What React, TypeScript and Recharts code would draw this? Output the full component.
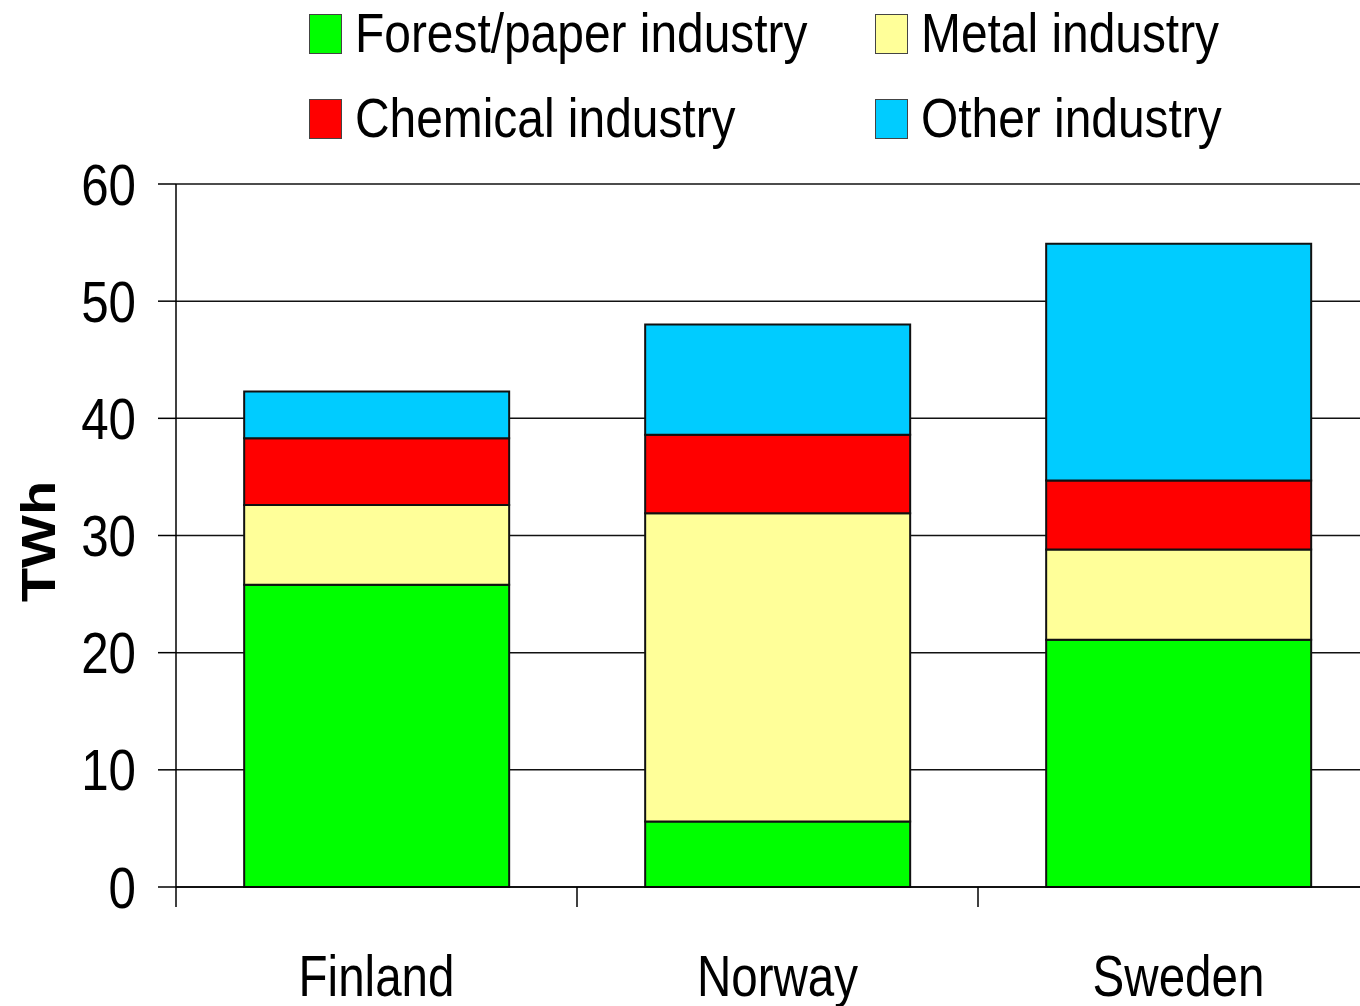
import { BarChart, Bar, XAxis, YAxis, CartesianGrid, Legend } from "recharts";

const countries = ["Finland", "Norway", "Sweden"];
const forestPaper = [25.8, 5.6, 21.1];
const metal = [6.8, 26.3, 7.7];
const chemical = [5.7, 6.7, 5.9];
const other = [4.0, 9.4, 20.2];
const yTicks = [0, 10, 20, 30, 40, 50, 60];
const legendOrder = ["Forest/paper industry", "Metal industry", "Chemical industry", "Other industry"];

const data = countries.map((country, i) => ({
  country,
  forest: forestPaper[i],
  metal: metal[i],
  chemical: chemical[i],
  other: other[i],
}));

const FONT = "'Liberation Sans', Arial, sans-serif";
// the source picture is squeezed horizontally
const SQUEEZE = 0.85;

function YTick({ x, y, payload }: any) {
  return (
    <text
      transform={`translate(${x},${y}) scale(${SQUEEZE},1)`}
      textAnchor="end"
      dy="0.355em"
      fontSize={58}
      fontFamily={FONT}
      fill="#000"
    >
      {payload.value}
    </text>
  );
}

// category label plus a tick mark on the left edge of each band
function XTick({ x, y, payload }: any) {
  const off = payload.offset ?? 200;
  return (
    <g>
      <line x1={x - off} y1={y - 20} x2={x - off} y2={y} stroke="#000" strokeWidth={1.5} />
      <text
        transform={`translate(${x},${y + 89}) scale(0.82,1)`}
        textAnchor="middle"
        fontSize={58}
        fontFamily={FONT}
        fill="#000"
      >
        {payload.value}
      </text>
    </g>
  );
}

function YTitle({ viewBox }: any) {
  const cy = viewBox.y + viewBox.height / 2 + 6;
  return (
    <text
      transform={`translate(55,${cy}) rotate(-90) scale(1,${SQUEEZE})`}
      textAnchor="middle"
      fontSize={56}
      fontWeight="bold"
      fontFamily={FONT}
      fill="#000"
    >
      TWh
    </text>
  );
}

function LegendBox({ payload }: any) {
  const items = [...(payload || [])].sort(
    (a: any, b: any) => legendOrder.indexOf(a.value) - legendOrder.indexOf(b.value)
  );
  return (
    <div
      style={{
        display: "grid",
        gridTemplateColumns: "566px 566px",
        paddingLeft: 309,
        paddingTop: 5,
        fontFamily: FONT,
      }}
    >
      {items.map((item: any) => (
        <div key={item.value} style={{ display: "flex", alignItems: "flex-start", height: 85 }}>
          <div
            style={{
              width: 33,
              height: 40,
              marginTop: 9,
              background: item.color,
              border: "1.5px solid #444",
              boxSizing: "border-box",
              flexShrink: 0,
            }}
          />
          <span
            style={{
              marginLeft: 13,
              fontSize: 56,
              lineHeight: "56px",
              color: "#000",
              whiteSpace: "nowrap",
              display: "inline-block",
              transform: "scaleX(0.855)",
              transformOrigin: "left center",
            }}
          >
            {item.value}
          </span>
        </div>
      ))}
    </div>
  );
}

export default function App() {
  return (
    <div
      style={{
        position: "absolute",
        left: 0,
        top: 0,
        width: 1360,
        height: 1006,
        overflow: "hidden",
        background: "#fff",
      }}
    >
      <BarChart
        width={1390}
        height={1006}
        data={data}
        margin={{ top: 184, right: 11, bottom: 0, left: 0 }}
        barCategoryGap="17%"
      >
        <CartesianGrid vertical={false} stroke="#111" strokeWidth={1.5} />
        <XAxis
          dataKey="country"
          height={119}
          tickLine={false}
          tickSize={20}
          tickMargin={0}
          axisLine={{ stroke: "#000", strokeWidth: 1.5 }}
          tick={<XTick />}
          interval={0}
        />
        <YAxis
          width={176}
          domain={[0, 60]}
          ticks={yTicks}
          tickSize={18}
          tickMargin={22}
          tickLine={{ stroke: "#000", strokeWidth: 1.5 }}
          axisLine={{ stroke: "#000", strokeWidth: 1.5 }}
          tick={<YTick />}
          label={<YTitle />}
        />
        <Legend
          layout="horizontal"
          verticalAlign="middle"
          align="center"
          wrapperStyle={{ top: 0, left: 0, width: 1360 }}
          content={<LegendBox />}
        />
        <Bar dataKey="forest" name="Forest/paper industry" stackId="a" fill="#00ff00" stroke="#111" strokeWidth={2} isAnimationActive={false} />
        <Bar dataKey="metal" name="Metal industry" stackId="a" fill="#ffff99" stroke="#111" strokeWidth={2} isAnimationActive={false} />
        <Bar dataKey="chemical" name="Chemical industry" stackId="a" fill="#ff0000" stroke="#111" strokeWidth={2} isAnimationActive={false} />
        <Bar dataKey="other" name="Other industry" stackId="a" fill="#00ccff" stroke="#111" strokeWidth={2} isAnimationActive={false} />
      </BarChart>
    </div>
  );
}
